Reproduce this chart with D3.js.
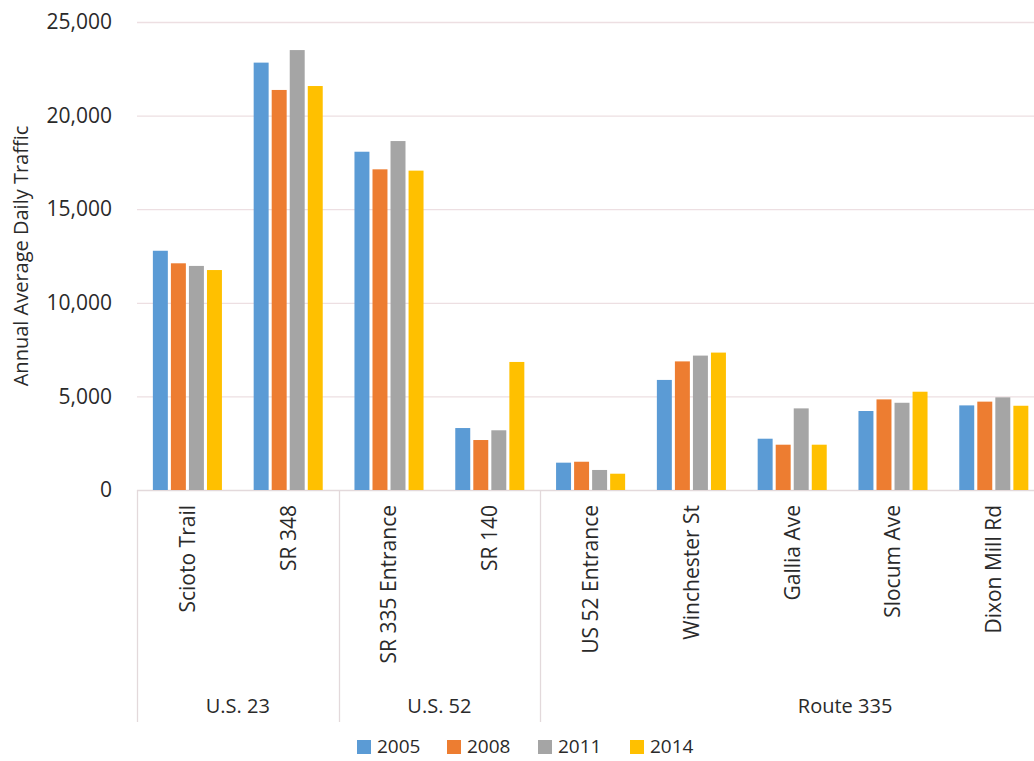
<!DOCTYPE html>
<html><head><meta charset="utf-8">
<script src="https://cdn.jsdelivr.net/npm/d3@7"></script>
<style>
html,body{margin:0;padding:0;background:#fff;}
svg{display:block;font-family:"Open Sans",sans-serif;}
</style></head>
<body>
<svg id="chart" width="1034" height="761"></svg>
<script>
const categories = ["Scioto Trail","SR 348","SR 335 Entrance","SR 140","US 52 Entrance","Winchester St","Gallia Ave","Slocum Ave","Dixon Mill Rd"];
const groups = ["U.S. 23","U.S. 23","U.S. 52","U.S. 52","Route 335","Route 335","Route 335","Route 335","Route 335"];
const seriesNames = ["2005","2008","2011","2014"];
const v2005 = [12780,22830,18070,3310,1460,5880,2740,4220,4520];
const v2008 = [12110,21370,17130,2670,1510,6870,2420,4840,4720];
const v2011 = [11970,23500,18640,3190,1070,7180,4360,4660,4950];
const v2014 = [11750,21580,17060,6840,870,7340,2420,5250,4500];
const yTicks = [0,5000,10000,15000,20000,25000];
const colors = ["#5B9BD5","#ED7D31","#A5A5A5","#FFC000"];
const seriesValues = [v2005,v2008,v2011,v2014];

(function(){
const svg = d3.select("#chart");
const pLeft = 137, pRight = 1044.2, pTop = 22, pBottom = 490;
const plotRightUncropped = 1150;
const textColor = "#2a2a2a";

const x0 = d3.scaleBand().domain(categories).range([pLeft, pRight]).paddingInner(0).paddingOuter(0);
const x1 = d3.scaleBand().domain(seriesNames).range([0, x0.bandwidth()]).paddingInner(0.17).paddingOuter(0.88);
const y = d3.scaleLinear().domain([0,25000]).range([pBottom, pTop]);

// gridlines
svg.append("g").selectAll("line").data(yTicks).join("line")
  .attr("x1", pLeft).attr("x2", 1034)
  .attr("y1", d=>y(d)+0.5).attr("y2", d=>y(d)+0.5)
  .attr("stroke", d=> d===0 ? "#e3d9db" : "#eddfe2").attr("stroke-width",1.3);

// y axis labels
const yAxis = d3.axisLeft(y).tickValues(yTicks).tickFormat(d3.format(",")).tickSize(0).tickPadding(0);
const ya = svg.append("g").attr("transform", `translate(${112},0)`).call(yAxis);
ya.select(".domain").remove();
ya.selectAll("text").attr("font-size",21).attr("fill",textColor).attr("font-family","Open Sans");

// bars
const rows = categories.map((c,i)=>({cat:c, vals: seriesNames.map((s,j)=>({s, v: seriesValues[j][i], j}))}));
svg.append("g").selectAll("g").data(rows).join("g")
  .attr("transform", d=>`translate(${x0(d.cat)},0)`)
  .selectAll("rect").data(d=>d.vals).join("rect")
  .attr("x", d=>x1(d.s)).attr("width", x1.bandwidth())
  .attr("y", d=>y(d.v)).attr("height", d=>y(0)-y(d.v))
  .attr("fill", d=>colors[d.j]);

// category labels
svg.append("g").selectAll("text").data(categories).join("text")
  .attr("transform", d=>`translate(${x0(d)+x0.bandwidth()/2},${505}) rotate(-90)`)
  .attr("text-anchor","end").attr("dy","0.35em")
  .attr("font-size",21).attr("fill",textColor).text(d=>d);

// group separators and labels
const groupNames = Array.from(new Set(groups));
const groupSpans = groupNames.map((g,gi)=>{
  const idx = groups.map((x,i)=>x===g?i:-1).filter(i=>i>=0);
  const start = x0(categories[idx[0]]);
  const end = gi===groupNames.length-1 ? plotRightUncropped : x0(categories[idx[idx.length-1]]) + x0.bandwidth();
  return {g, start, end};
});
svg.append("g").selectAll("line").data(groupSpans).join("line")
  .attr("x1", d=>Math.round(d.start)+0.5).attr("x2", d=>Math.round(d.start)+0.5)
  .attr("y1", pBottom).attr("y2", 722)
  .attr("stroke","#e3d9db").attr("stroke-width",1.3);
svg.append("g").selectAll("text").data(groupSpans).join("text")
  .attr("x", d=>(d.start+d.end)/2).attr("y", 713)
  .attr("text-anchor","middle").attr("font-size",20).attr("fill",textColor).text(d=>d.g);

// y title
svg.append("text").attr("transform","translate(21,256) rotate(-90)")
  .attr("text-anchor","middle").attr("dy","0.35em").attr("font-size",20).attr("fill",textColor)
  .text("Annual Average Daily Traffic");

// legend
const legendX = [357,447,538,630];
const lg = svg.append("g").selectAll("g").data(seriesNames).join("g")
  .attr("transform",(d,i)=>`translate(${legendX[i]},740)`);
lg.append("rect").attr("y",0).attr("width",14).attr("height",14).attr("fill",(d,i)=>colors[i]);
lg.append("text").attr("x",20).attr("y",13).attr("font-size",19).attr("fill",textColor).text(d=>d);
})();
</script>
</body></html>
